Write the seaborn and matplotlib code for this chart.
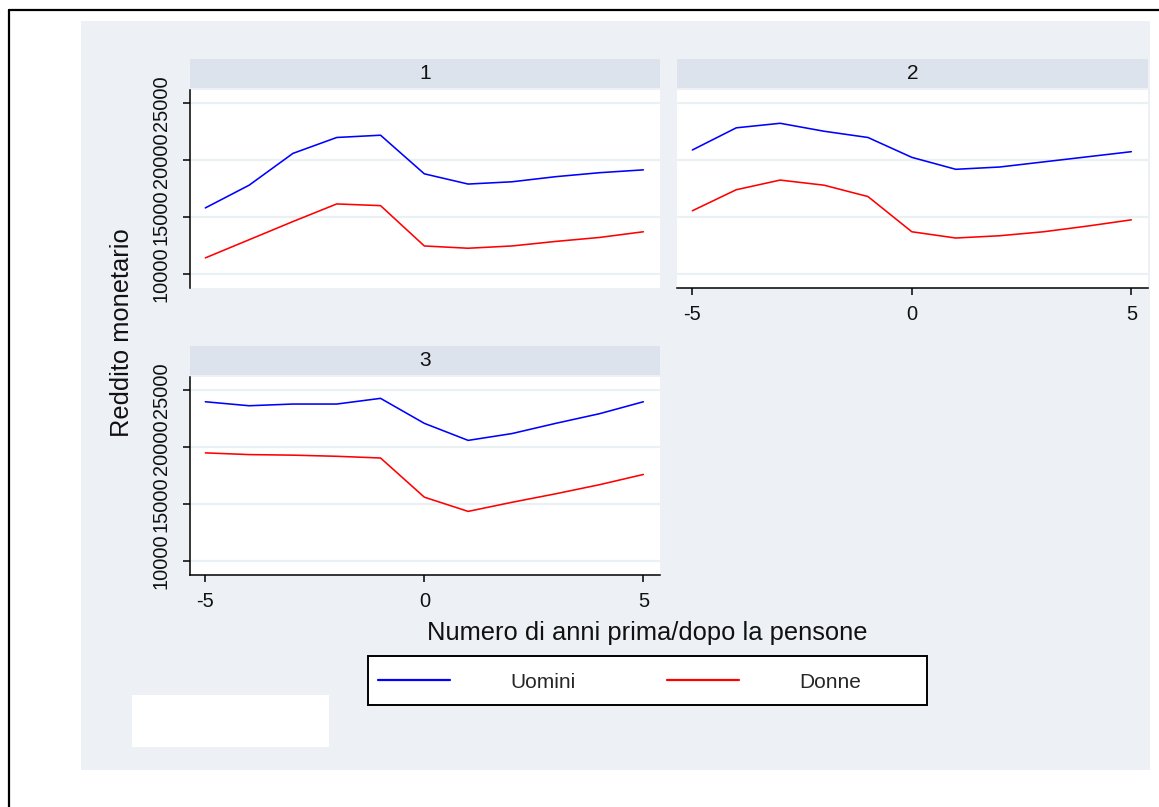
import matplotlib
matplotlib.use("Agg")
import matplotlib.pyplot as plt
import numpy as np
import pandas as pd
import seaborn as sns
from matplotlib.patches import Rectangle
from matplotlib.lines import Line2D

# ---------------- data ----------------
anni = [-5, -4, -3, -2, -1, 0, 1, 2, 3, 4, 5]
uomini_1 = [15800, 17800, 20600, 22000, 22200, 18800, 17900, 18100, 18550, 18900, 19150]
donne_1 = [11400, 13000, 14600, 16150, 16000, 12450, 12250, 12450, 12850, 13200, 13700]
uomini_2 = [20900, 22850, 23250, 22550, 22000, 20250, 19200, 19400, 19850, 20300, 20750]
donne_2 = [15550, 17400, 18250, 17800, 16800, 13700, 13150, 13350, 13700, 14200, 14750]
uomini_3 = [24000, 23650, 23800, 23800, 24300, 22100, 20600, 21200, 22100, 22950, 24000]
donne_3 = [19500, 19350, 19300, 19200, 19050, 15600, 14350, 15150, 15900, 16700, 17600]
panels = ["1", "2", "3"]
series = ["Uomini", "Donne"]
y_ticks = [10000, 15000, 20000, 25000]
x_ticks = [-5, 0, 5]
x_title = "Numero di anni prima/dopo la pensone"
y_title = "Reddito monetario"

values = {("1", "Uomini"): uomini_1, ("1", "Donne"): donne_1,
          ("2", "Uomini"): uomini_2, ("2", "Donne"): donne_2,
          ("3", "Uomini"): uomini_3, ("3", "Donne"): donne_3}
rows = []
for (p, s), vals in values.items():
    for a, v in zip(anni, vals):
        rows.append({"panel": p, "sesso": s, "anni": a, "reddito": v})
df = pd.DataFrame(rows)

# ---------------- style ----------------
sns.set_theme(style="white")
plt.rcParams["font.family"] = ["Liberation Sans", "DejaVu Sans"]

W, H = 1159, 807
BG = "#EDF1F6"
STRIP = "#DCE3EC"
GRID = "#EBF0F4"
TXT = "#111111"
palette = {"Uomini": "#0000FF", "Donne": "#FF0000"}

fig = plt.figure(figsize=(W / 100, H / 100), dpi=100)
fig.patch.set_facecolor("white")


def frac_rect(x0, y0, x1, y1):
    return [x0 / W, 1 - y1 / H, (x1 - x0) / W, (y1 - y0) / H]


# outer light background and frame lines
fig.add_artist(Rectangle((81 / W, 1 - 770 / H), (1150 - 81) / W, (770 - 21) / H,
                         transform=fig.transFigure, facecolor=BG, edgecolor="none", zorder=-10))
fig.add_artist(Line2D([9 / W, 9 / W], [0, 1 - 10 / H], transform=fig.transFigure,
                      color="black", lw=1.6, zorder=-5))
fig.add_artist(Line2D([9 / W, 1], [1 - 10 / H, 1 - 10 / H], transform=fig.transFigure,
                      color="black", lw=1.6, zorder=-5))
# empty white note box
fig.add_artist(Rectangle((132 / W, 1 - 747 / H), (329 - 132) / W, (747 - 695) / H,
                         transform=fig.transFigure, facecolor="white", edgecolor="none", zorder=-4))

layout = {
    "1": dict(ax=(190, 90, 660, 288), strip=(190, 59, 660, 88), left=True, bottom=False),
    "2": dict(ax=(677, 90, 1148, 288), strip=(677, 59, 1148, 88), left=False, bottom=True),
    "3": dict(ax=(190, 377, 660, 575), strip=(190, 346, 660, 375), left=True, bottom=True),
}

for p in panels:
    cfg = layout[p]
    ax = fig.add_axes(frac_rect(*cfg["ax"]))
    ax.set_facecolor("white")
    sub = df[df["panel"] == p]
    sns.lineplot(data=sub, x="anni", y="reddito", hue="sesso", hue_order=series,
                 palette=palette, linewidth=1.15, legend=False, ax=ax)
    ax.set_xlim(-5.35, 5.38)
    ax.set_ylim(8750, 26180)
    ax.set_xlabel("")
    ax.set_ylabel("")
    ax.set_yticks(y_ticks)
    ax.set_xticks(x_ticks)
    ax.yaxis.grid(True, color=GRID, lw=1.6)
    ax.xaxis.grid(False)
    ax.set_axisbelow(True)
    for side in ["top", "right", "left", "bottom"]:
        ax.spines[side].set_visible(False)
    if cfg["left"]:
        ax.spines["left"].set_visible(True)
        ax.spines["left"].set_color("black")
        ax.spines["left"].set_linewidth(1.1)
        ax.set_yticklabels([str(t) for t in y_ticks], rotation=90, va="center",
                           fontsize=14.4, color=TXT)
        ax.tick_params(axis="y", left=True, length=5, width=1.1, pad=9, color="black")
    else:
        ax.tick_params(axis="y", left=False, labelleft=False)
    if cfg["bottom"]:
        ax.spines["bottom"].set_visible(True)
        ax.spines["bottom"].set_color("black")
        ax.spines["bottom"].set_linewidth(1.1)
        ax.set_xticklabels([str(t) for t in x_ticks], fontsize=14.4, color=TXT)
        ax.tick_params(axis="x", bottom=True, length=5, width=1.1, pad=7, color="black")
    else:
        ax.tick_params(axis="x", bottom=False, labelbottom=False)

    sx0, sy0, sx1, sy1 = cfg["strip"]
    fig.add_artist(Rectangle((sx0 / W, 1 - sy1 / H), (sx1 - sx0) / W, (sy1 - sy0) / H,
                             transform=fig.transFigure, facecolor=STRIP, edgecolor="none", zorder=-3))
    fig.text((sx0 + sx1) / 2 / W, 1 - (sy0 + sy1) / 2 / H, p, ha="center", va="center",
             fontsize=15, color=TXT)

# axis titles
fig.text(647 / W, 1 - 633 / H, x_title, ha="center", va="center", fontsize=18.4, color=TXT)
fig.text(122 / W, 1 - 333 / H, y_title, ha="center", va="center", rotation=90,
         fontsize=18.4, color=TXT)

# legend box + legend
fig.add_artist(Rectangle((368 / W, 1 - 705 / H), (927 - 368) / W, (705 - 656) / H,
                         transform=fig.transFigure, facecolor="white", edgecolor="black",
                         lw=1.4, zorder=-2))
handles = [Line2D([], [], color=palette[s], lw=1.6) for s in series]
fig.legend(handles, series, ncol=2, frameon=False, loc="center left",
           bbox_to_anchor=(378 / W, 1 - 682 / H), bbox_transform=fig.transFigure,
           fontsize=15, handlelength=3.45, handletextpad=2.9, columnspacing=4.4,
           borderpad=0, borderaxespad=0)

fig.savefig("out.png", dpi=100, facecolor=fig.get_facecolor())
